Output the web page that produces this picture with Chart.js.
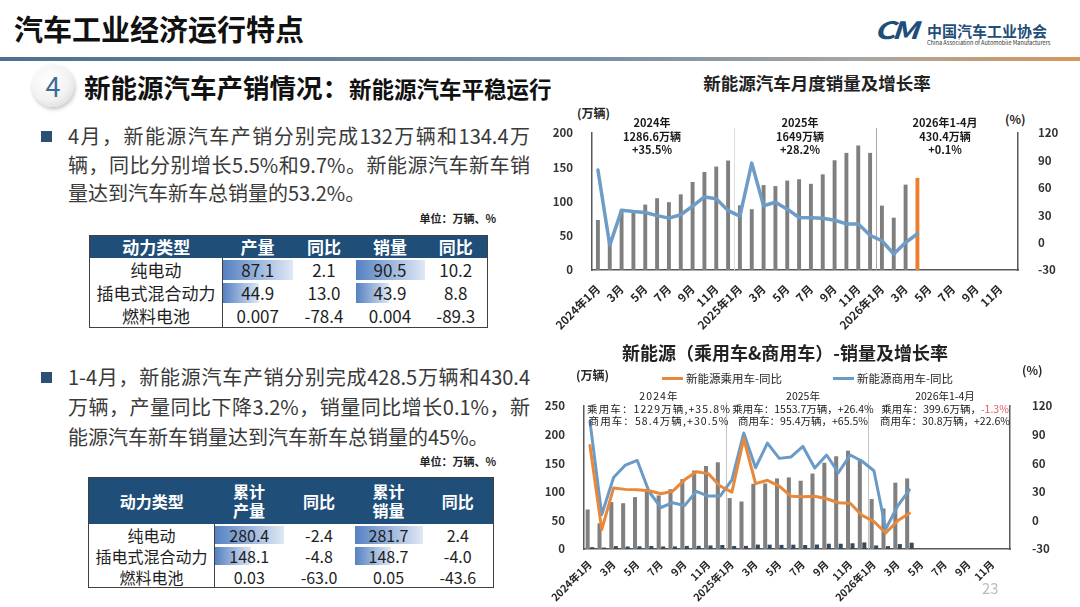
<!DOCTYPE html>
<html lang="zh-CN">
<head>
<meta charset="UTF-8">
<title>汽车工业经济运行特点</title>
<script src="https://cdn.jsdelivr.net/npm/chart.js"></script>
<style>
  html, body { margin: 0; padding: 0; }
  body {
    width: 1080px; height: 607px; position: relative; overflow: hidden; background: #fff;
    font-family: "Noto Sans CJK SC", "Noto Sans", sans-serif; color: #262626;
  }
  .abs { position: absolute; white-space: nowrap; }
  #title { left: 14px; top: 14px; font-size: 29px; line-height: 29px; font-weight: bold; color: #111; }
  #rule { left: 0; top: 57px; width: 1080px; height: 4px;
    background: linear-gradient(to right, #4d7191 0%, #7890a4 55%, #a9a6a2 80%, #d6965a 100%); }
  #logo-cm { left: 874px; top: 17px; font-size: 24px; line-height: 24px; font-weight: bold; font-style: italic;
    color: #1f4e79; letter-spacing: -3px; transform: scaleX(1.35); transform-origin: left top; }
  #logo-org { left: 927px; top: 23px; font-size: 15px; line-height: 16px; font-weight: bold; color: #1f4e79; }
  #logo-en { left: 927px; top: 40px; font-size: 5.6px; line-height: 6px; color: #333; }
  #badge { left: 32px; top: 65px; width: 42px; height: 42px; border-radius: 50%;
    background: radial-gradient(circle at 40% 35%, #ffffff 0%, #f2f2f2 55%, #cfcfcf 100%);
    box-shadow: 1px 2px 4px rgba(0,0,0,0.25);
    font-size: 27px; line-height: 42px; text-align: center; color: #3a6a98; }
  #heading { left: 84px; top: 73px; line-height: 28px; font-weight: bold; color: #111; }
  #heading .h1 { font-size: 26.5px; }
  #heading .h2 { font-size: 22.5px; }
  .bullet { width: 11px; height: 11px; background: #2c4f75; }
  .para { left: 68px; width: 462px; font-size: 20px; color: #3a3a3a; }
  .para .j { text-align: justify; text-align-last: justify; }
  .unit { font-size: 11px; line-height: 12px; font-weight: bold; color: #222; text-align: right; width: 100px; }
  table.data { position: absolute; border-collapse: collapse; table-layout: fixed; border: 1px solid #404040; }
  table.data th { background: #1f4e79; color: #fff; font-weight: bold; padding: 0; text-align: center; }
  table.data td { padding: 0; text-align: center; color: #1e1e1e; white-space: nowrap; }
  table.data td:first-child { border-right: 1px solid #404040; }
  #tbl1 { left: 89px; top: 235px; width: 398px; }
  #tbl1 th { height: 22px; font-size: 17px; line-height: 20px; }
  #tbl1 td { height: 23px; font-size: 17px; line-height: 22px; }
  #tbl2 { left: 88px; top: 477px; width: 405px; }
  #tbl2 th { height: 46px; font-size: 16px; line-height: 19px; }
  #tbl2 td { height: 21px; font-size: 16px; line-height: 20px; }
  .chart-box { position: absolute; }
  .ctitle { font-size: 17.5px; line-height: 20px; font-weight: bold; color: #222; text-align: center; transform: translateX(-50%); }
  .note { text-align: center; transform: translateX(-50%); color: #1a1a1a; z-index: 2; }
  .note1 { font-size: 11px; line-height: 13.5px; font-weight: bold; }
  .note2 { font-size: 10.5px; line-height: 12.5px; }
  .axunit { font-size: 12px; line-height: 14px; font-weight: bold; color: #262626; }
  .leg { font-size: 11.5px; line-height: 14px; color: #262626; }
  .leg i { display: inline-block; width: 21px; height: 3px; vertical-align: middle; margin-right: 3px; position: relative; top: -1px; }
  #page { left: 982px; top: 579px; font-size: 15px; line-height: 18px; color: #bdbdbd; }
</style>
</head>
<body>
  <div id="title" class="abs">汽车工业经济运行特点</div>
  <div id="rule" class="abs"></div>
  <div id="logo-cm" class="abs">CM</div>
  <div id="logo-org" class="abs">中国汽车工业协会</div>
  <div id="logo-en" class="abs">China Association of Automobile Manufacturers</div>

  <div id="badge" class="abs">4</div>
  <div id="heading" class="abs"><span class="h1">新能源汽车产销情况：</span><span class="h2">新能源汽车平稳运行</span></div>

  <div class="bullet abs" style="left:41px; top:131px;"></div>
  <div class="para abs" style="top:122px; line-height:28.5px;">
    <div class="j">4月，新能源汽车产销分别完成132万辆和134.4万</div>
    <div class="j">辆，同比分别增长5.5%和9.7%。新能源汽车新车销</div>
    <div>量达到汽车新车总销量的53.2%。</div>
  </div>
  <div class="unit abs" style="left:396px; top:212px;">单位：万辆、%</div>
  <table class="data" id="tbl1">
    <colgroup><col style="width:133px"><col style="width:70px"><col style="width:63px"><col style="width:69px"><col style="width:63px"></colgroup>
    <thead><tr><th>动力类型</th><th>产量</th><th>同比</th><th>销量</th><th>同比</th></tr></thead>
    <tbody></tbody>
  </table>

  <div class="bullet abs" style="left:41px; top:372px;"></div>
  <div class="para abs" style="top:362px; line-height:30px;">
    <div class="j">1-4月，新能源汽车产销分别完成428.5万辆和430.4</div>
    <div class="j">万辆，产量同比下降3.2%，销量同比增长0.1%，新</div>
    <div>能源汽车新车销量达到汽车新车总销量的45%。</div>
  </div>
  <div class="unit abs" style="left:396px; top:455px;">单位：万辆、%</div>
  <table class="data" id="tbl2">
    <colgroup><col style="width:126px"><col style="width:69px"><col style="width:71px"><col style="width:68px"><col style="width:71px"></colgroup>
    <thead><tr><th>动力类型</th><th>累计<br>产量</th><th>同比</th><th>累计<br>销量</th><th>同比</th></tr></thead>
    <tbody></tbody>
  </table>

  <!-- 图1：月度销量及增长率 -->
  <div class="ctitle abs" style="left:817px; top:73px;">新能源汽车月度销量及增长率</div>
  <div class="axunit abs" style="left:577px; top:106px;">(万辆)</div>
  <div class="axunit abs" style="left:1005px; top:112px;">(%)</div>
  <div class="note note1 abs" style="left:652px; top:116px;">2024年<br>1286.6万辆<br>+35.5%</div>
  <div class="note note1 abs" style="left:800px; top:116px;">2025年<br>1649万辆<br>+28.2%</div>
  <div class="note note1 abs" style="left:945px; top:116px;">2026年1-4月<br>430.4万辆<br>+0.1%</div>
  <div class="chart-box" style="left:545px; top:110px; width:520px; height:235px;">
    <canvas id="salesChart"></canvas>
  </div>

  <!-- 图2：乘用车&商用车 -->
  <div class="ctitle abs" style="left:785px; top:342px; font-size:18px;">新能源（乘用车&amp;商用车）-销量及增长率</div>
  <div class="axunit abs" style="left:576px; top:368px;">(万辆)</div>
  <div class="axunit abs" style="left:1022px; top:363px;">(%)</div>
  <div class="leg abs" style="left:662px; top:371px;"><i style="background:#e8883a"></i>新能源乘用车-同比</div>
  <div class="leg abs" style="left:833px; top:371px;"><i style="background:#6a9ac6"></i>新能源商用车-同比</div>
  <div class="note note2 abs" style="left:659px; top:390px; letter-spacing:1.1px;">2024年<br>乘用车：1229万辆,+35.8%<br>商用车：58.4万辆,+30.5%</div>
  <div class="note note2 abs" style="left:803px; top:390px;">2025年<br>乘用车：1553.7万辆，+26.4%<br>商用车：95.4万辆，+65.5%</div>
  <div class="note note2 abs" style="left:945px; top:390px;">2026年1-4月<br>乘用车：399.6万辆，<span style="color:#e05a5a">-1.3%</span><br>商用车：30.8万辆，+22.6%</div>
  <div class="chart-box" style="left:545px; top:385px; width:520px; height:222px;">
    <canvas id="segChart"></canvas>
  </div>

  <div id="page" class="abs">23</div>

<script>
  // ---- 表格数据 ----
  const powerTypes = ['纯电动', '插电式混合动力', '燃料电池'];
  const aprProd = ['87.1', '44.9', '0.007'];
  const aprProdYoy = ['2.1', '13.0', '-78.4'];
  const aprSales = ['90.5', '43.9', '0.004'];
  const aprSalesYoy = ['10.2', '8.8', '-89.3'];
  const ytdProd = ['280.4', '148.1', '0.03'];
  const ytdProdYoy = ['-2.4', '-4.8', '-63.0'];
  const ytdSales = ['281.7', '148.7', '0.05'];
  const ytdSalesYoy = ['2.4', '-4.0', '-43.6'];

  // ---- 图表数据 ----
  const months = [
    '2024年1月', '2月', '3月', '4月', '5月', '6月', '7月', '8月', '9月', '10月', '11月', '12月',
    '2025年1月', '2月', '3月', '4月', '5月', '6月', '7月', '8月', '9月', '10月', '11月', '12月',
    '2026年1月', '2月', '3月', '4月', '5月', '6月', '7月', '8月', '9月', '10月', '11月', '12月'
  ];
  // 新能源汽车月度销量（万辆）
  const nevSales = [
    73, 47, 88, 84.5, 95.5, 104.8, 99, 110.4, 128.5, 143, 151, 159.8,
    94.4, 88.8, 124, 122.5, 130.5, 132.5, 125.8, 139.6, 160.2, 171, 181.8, 171,
    94, 76.4, 124.6, 134.4
  ];
  // 新能源汽车销量同比（%）
  const nevGrowth = [
    79.5, -3, 35.5, 34, 33, 29.5, 26.8, 30.5, 40, 50, 48, 35,
    29, 87, 40.3, 44.2, 36.6, 27.5, 27.3, 26.7, 24.5, 20.5, 20.3, 8,
    2, -12.5, 0, 9.7
  ];
  // 新能源乘用车 / 商用车 销量（万辆）
  const pvSales = [
    69, 45, 82, 80, 90.7, 100, 93.6, 104.5, 122, 137, 145, 151.5,
    89, 83, 114, 114.5, 123.3, 125, 119.3, 131.8, 150.7, 162, 171.8, 157.5,
    87.3, 70.8, 115.9, 123.3
  ];
  const cvSales = [
    3.2, 2.5, 5.0, 4.4, 4.8, 5.2, 4.5, 4.5, 5.4, 5.5, 6.2, 7.0,
    5.3, 5.4, 7.7, 7.6, 7.2, 7.5, 7.0, 7.8, 9.2, 9.2, 10.0, 11.5,
    6.2, 5.0, 8.6, 11.0
  ];
  // 同比（%）
  const pvGrowth = [
    78.5, -9.7, 34, 32.5, 32, 31, 28, 30.6, 42.5, 51, 49, 36,
    29.6, 85.7, 38.5, 42, 36, 25.2, 24.8, 25.2, 22.7, 18.5, 18, 5.2,
    -1.2, -13.2, -0.5, 7.4
  ];
  const cvGrowth = [
    104, 6, 45, 58, 62.8, 30, 13.5, 18.5, 15.5, 30.5, 25.5, 25.5,
    42.5, 91.5, 55.2, 81, 65, 66.5, 77.5, 55, 68.5, 50, 68.5, 62,
    52, -9, 15, 32
  ];

  // ---- 表格 ----
  function fillTable(id, cols, barCols) {
    const tbody = document.querySelector('#' + id + ' tbody');
    const maxes = cols.map(c => Math.max(...c.map(Number)));
    powerTypes.forEach((name, r) => {
      const tr = document.createElement('tr');
      const th = document.createElement('td');
      th.textContent = name;
      tr.appendChild(th);
      cols.forEach((col, c) => {
        const td = document.createElement('td');
        td.textContent = col[r];
        if (barCols.includes(c)) {
          const pct = Number(col[r]) / maxes[c] * 100;
          td.style.background = 'linear-gradient(to right, #5581c2, #dfe8f5) no-repeat left center';
          td.style.backgroundSize = pct.toFixed(1) + '% calc(100% - 3px)';
        }
        tr.appendChild(td);
      });
      tbody.appendChild(tr);
    });
  }
  fillTable('tbl1', [aprProd, aprProdYoy, aprSales, aprSalesYoy], [0, 2]);
  fillTable('tbl2', [ytdProd, ytdProdYoy, ytdSales, ytdSalesYoy], [0, 2]);

  // ---- Chart.js ----
  const FONT = '"Noto Sans CJK SC", "Noto Sans", sans-serif';
  Chart.defaults.font.family = FONT;
  Chart.defaults.color = '#262626';

  // 年份分隔竖线
  const yearSeparators = {
    id: 'yearSeparators',
    beforeDatasetsDraw(chart, args, opts) {
      const { ctx, chartArea, scales: { x } } = chart;
      let n = 0;
      ctx.save();
      ctx.lineWidth = 1;
      months.forEach((m, i) => {
        if (i > 0 && m.includes('年')) {
          const px = Math.round((x.getPixelForValue(i - 1) + x.getPixelForValue(i)) / 2) + 0.5;
          ctx.strokeStyle = opts.colors[n++];
          ctx.beginPath();
          ctx.moveTo(px, chartArea.top - opts.extend);
          ctx.lineTo(px, chartArea.bottom);
          ctx.stroke();
        }
      });
      ctx.restore();
    }
  };

  const axisBorder = { display: true, color: '#595959', width: 1.5 };
  const tickFont = { size: 11.5, weight: 'bold', family: FONT };
  const xAxis = (height, size, pad) => ({
    grid: { display: false },
    border: axisBorder,
    ticks: {
      autoSkip: false, maxRotation: 45, minRotation: 45, padding: pad,
      color: '#262626', font: { size, weight: 'bold', family: FONT },
      callback: (v, i) => (i % 2 === 0 ? months[i] : '')
    },
    afterFit: s => { s.height = height; }
  });
  const yAxis = (pos, min, max, step, pad, width) => ({
    position: pos, min, max,
    grid: { display: false, drawOnChartArea: false },
    border: axisBorder,
    ticks: { stepSize: step, padding: pad, color: '#333', font: tickFont },
    afterFit: s => { s.width = width; }
  });

  const lastSales = nevSales.length - 1;
  new Chart(document.getElementById('salesChart'), {
    type: 'bar',
    data: {
      labels: months,
      datasets: [
        {
          type: 'line', label: '同比', data: nevGrowth, yAxisID: 'y1', order: 0,
          borderColor: '#6d9cc7', borderWidth: 3.5, pointRadius: 0,
          borderJoinStyle: 'round', borderCapStyle: 'round'
        },
        {
          type: 'bar', label: '销量', data: nevSales, yAxisID: 'y', order: 1,
          backgroundColor: c => (c.dataIndex === lastSales ? '#ed7d31' : '#7f7f7f'),
          barPercentage: 1, categoryPercentage: 0.33
        }
      ]
    },
    options: {
      responsive: true, maintainAspectRatio: false, animation: false,
      layout: { padding: { top: 23, left: 0, right: 0, bottom: 0 } },
      plugins: {
        legend: { display: false }, tooltip: { enabled: false },
        yearSeparators: { colors: ['#dedede', '#a6a6a6'], extend: 5 }
      },
      scales: {
        x: xAxis(75, 11.5, 4),
        y: yAxis('left', 0, 200, 50, 11, 47),
        y1: yAxis('right', -30, 120, 30, 12, 47)
      }
    },
    plugins: [yearSeparators]
  });

  new Chart(document.getElementById('segChart'), {
    type: 'bar',
    data: {
      labels: months,
      datasets: [
        {
          type: 'line', label: '新能源商用车-同比', data: cvGrowth, yAxisID: 'y1', order: 1,
          borderColor: '#6a9ac6', borderWidth: 3, pointRadius: 0,
          borderJoinStyle: 'round', borderCapStyle: 'round'
        },
        {
          type: 'line', label: '新能源乘用车-同比', data: pvGrowth, yAxisID: 'y1', order: 0,
          borderColor: '#e8883a', borderWidth: 3, pointRadius: 0,
          borderJoinStyle: 'round', borderCapStyle: 'round'
        },
        {
          type: 'bar', label: '新能源乘用车', data: pvSales, yAxisID: 'y', order: 2,
          backgroundColor: '#808080', barPercentage: 0.9, categoryPercentage: 0.76
        },
        {
          type: 'bar', label: '新能源商用车', data: cvSales, yAxisID: 'y', order: 2,
          backgroundColor: '#34495e', barPercentage: 0.9, categoryPercentage: 0.76
        }
      ]
    },
    options: {
      responsive: true, maintainAspectRatio: false, animation: false,
      layout: { padding: { top: 17, left: 0, right: 0, bottom: 0 } },
      plugins: {
        legend: { display: false }, tooltip: { enabled: false },
        yearSeparators: { colors: ['#c4c4c4', '#c4c4c4'], extend: 4 }
      },
      scales: {
        x: xAxis(58, 10.5, 1),
        y: yAxis('left', 0, 250, 50, 11, 39),
        y1: yAxis('right', -30, 120, 30, 14, 55)
      }
    },
    plugins: [yearSeparators]
  });
</script>
</body>
</html>
